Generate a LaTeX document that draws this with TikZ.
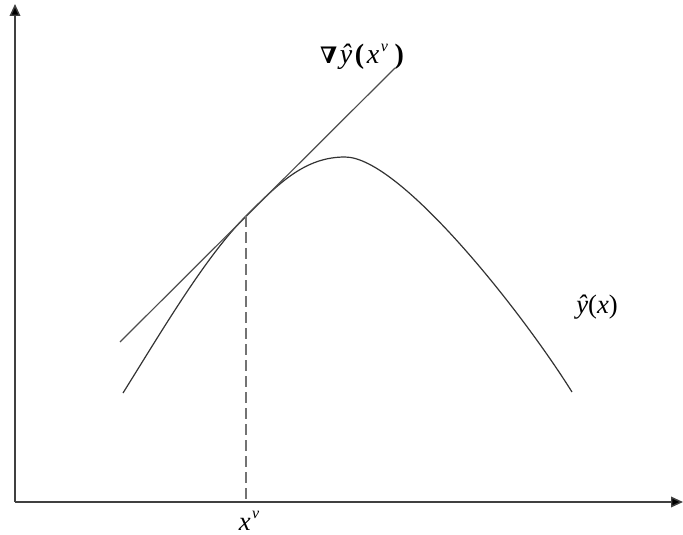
\documentclass[tikz,border=0pt]{standalone}
\usepackage{fontspec}
\setmainfont{Liberation Serif}
\newfontfamily\dvsfont{DejaVu Serif}
\usetikzlibrary{arrows.meta}
\begin{document}
\begin{tikzpicture}[x=0.75pt,y=-0.75pt,
  axis/.style={line width=1.1pt,draw=black!75,-{Triangle[length=9pt,width=8pt,fill=black]}},
  curveline/.style={line width=0.9pt,draw=black!80},
  lbl/.style={inner sep=0pt,font=\fontsize{20}{22}\selectfont}]
\useasboundingbox (0,0) rectangle (683,535);
\coordinate (O) at (15,502);
\coordinate (Ytop) at (15,4);
\coordinate (Xend) at (683,502);
\coordinate (A) at (123,393);
\coordinate (T) at (246,216);
\coordinate (P) at (345,157);
\coordinate (B) at (572,392);
\coordinate (L1) at (120,342);
\coordinate (L2) at (395,68);
\coordinate (Tfoot) at (246,502);
\draw[axis] (O) -- (Ytop);
\draw[axis] (O) -- (Xend);
\draw[curveline] (A) .. controls (163,329) and (206,256) .. (T)
  .. controls (279,183) and (305,157) .. (P)
  .. controls (400,157) and (522,312) .. (B);
\draw[curveline,draw=black!70] (L1) -- (L2);
\draw[line width=1.1pt,draw=black!55,dash pattern=on 8pt off 4pt] (T) -- (Tfoot);
\node[lbl,font=\fontsize{21}{23}\selectfont] (grad) at (362,57) {{\dvsfont\bfseries\fontsize{17}{20}\selectfont ∇}\kern2pt\textit{ŷ}\kern2pt\textbf{(}\kern2pt\textit{x}\kern1pt\raisebox{0.45em}{\fontsize{12}{14}\selectfont\textit{v}}\kern5pt\textbf{)}};
\node[lbl] (xv) at (249,521) {\textit{x}\kern1pt\raisebox{0.45em}{\fontsize{12}{14}\selectfont\textit{v}}};
\node[lbl] (yx) at (597,307) {\textit{ŷ}(\textit{x})};
\end{tikzpicture}
\end{document}
